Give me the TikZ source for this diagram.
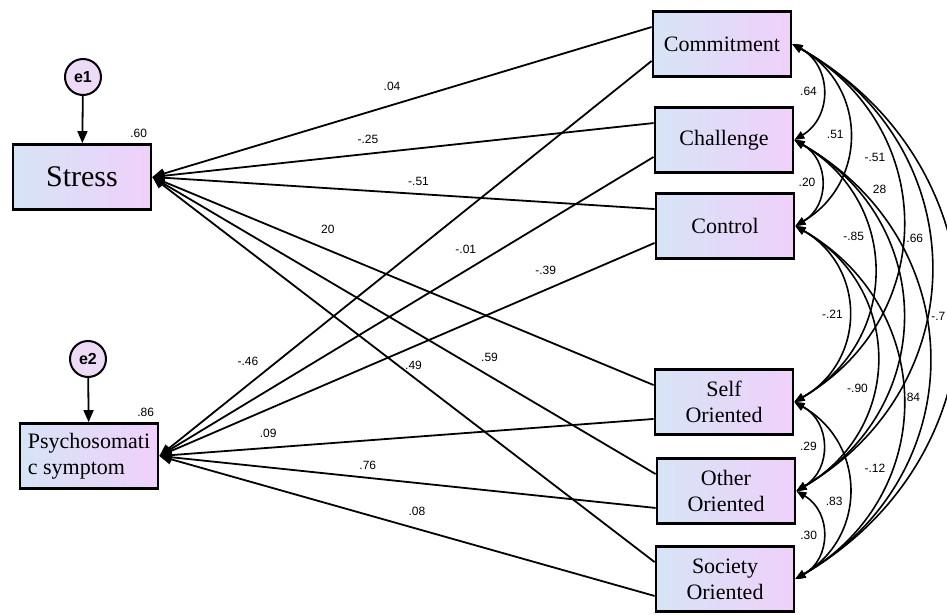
\documentclass[tikz,border=0pt]{standalone}
\usepackage{fontspec}
\setmainfont{Liberation Serif}
\newfontfamily\coeffont{Liberation Sans}
\usetikzlibrary{positioning,calc,arrows.meta,shapes}

\definecolor{boxleft}{RGB}{214,228,246}
\definecolor{boxright}{RGB}{240,208,250}
\definecolor{errfill}{RGB}{236,218,246}

\tikzset{
  obsbox/.style={rectangle,draw=black,line width=1.4pt,left color=boxleft,right color=boxright,minimum width=69pt,minimum height=32.5pt,inner sep=1pt,font=\fontsize{11}{13}\selectfont,align=center},
  errcirc/.style={circle,draw=black,line width=1pt,fill=errfill,minimum size=18pt,inner sep=0pt,font=\coeffont\bfseries\fontsize{8}{8}\selectfont},
  regpath/.style={line width=0.9pt,-{Triangle[length=6pt,width=5pt]}},
  covarc/.style={line width=0.8pt,{Triangle[length=5pt,width=4pt]}-{Triangle[length=5pt,width=4pt]},bend left=60,looseness=1.2},
  coeff/.style={font=\coeffont\fontsize{6}{7}\selectfont,inner sep=0.5pt},
}

\begin{document}
\begin{tikzpicture}[x=0.5pt,y=-0.5pt]
        \useasboundingbox (0,0) rectangle (947,615);

        % endogenous side
        \node[obsbox,font=\fontsize{15}{17}\selectfont] (stress) at (82,177) {Stress};
        \node[obsbox,align=left] (psych) at (89,456) {Psychosomati\\c symptom};
        \node[errcirc] (e1) at (83,77) {e1};
        \node[errcirc] (e2) at (88,359) {e2};
        \draw[regpath] (e1) -- (stress);
        \draw[regpath] (e2) -- (psych);
        \node[coeff,anchor=south east] (r2-stress) at ([xshift=-2pt,yshift=2pt]stress.north east) {.60};
        \node[coeff,anchor=south east] (r2-psych) at ([xshift=-2pt,yshift=2pt]psych.north east) {.86};

        % exogenous side
        \node[obsbox] (com) at (722,44) {Commitment};
        \node[obsbox] (chal) at (724,140) {Challenge};
        \node[obsbox] (ctrl) at (725,226) {Control};
        \node[obsbox] (self) at (724,402) {Self\\Oriented};
        \node[obsbox] (other) at (726,491) {Other\\Oriented};
        \node[obsbox] (soc) at (725,579) {Society\\Oriented};

        % paths to Stress
        \draw[regpath] ($(com.north west)!.25!(com.south west)$) -- (stress.east) node[coeff,pos=.52,above=6.5pt] (b-com-stress) {.04};
        \draw[regpath] ($(chal.north west)!.25!(chal.south west)$) -- (stress.east) node[coeff,pos=.57,above=4.3pt] (b-chal-stress) {-.25};
        \draw[regpath] ($(ctrl.north west)!.25!(ctrl.south west)$) -- (stress.east) node[coeff,pos=.47,above=3pt] (b-ctrl-stress) {-.51};
        \draw[regpath] ($(self.north west)!.25!(self.south west)$) -- (stress.east) node[coeff,pos=.65,above=7pt] (b-self-stress) {20};
        \draw[regpath] ($(other.north west)!.25!(other.south west)$) -- (stress.east) node[coeff,pos=.33,above=6.2pt] (b-other-stress) {.59};
        \draw[regpath] ($(soc.north west)!.25!(soc.south west)$) -- (stress.east) node[coeff,pos=.48,above=3pt] (b-soc-stress) {.49};

        % paths to Psychosomatic symptom
        \draw[regpath] ($(com.north west)!.75!(com.south west)$) -- (psych.east) node[coeff,pos=.82,above=8.5pt] (b-com-psych) {-.46};
        \draw[regpath] ($(chal.north west)!.75!(chal.south west)$) -- (psych.east) node[coeff,pos=.38,above=7.5pt] (b-chal-psych) {-.01};
        \draw[regpath] ($(ctrl.north west)!.75!(ctrl.south west)$) -- (psych.east) node[coeff,pos=.22,above=6.5pt] (b-ctrl-psych) {-.39};
        \draw[regpath] ($(self.north west)!.75!(self.south west)$) -- (psych.east) node[coeff,pos=.78,above=4pt] (b-self-psych) {.09};
        \draw[regpath] ($(other.north west)!.75!(other.south west)$) -- (psych.east) node[coeff,pos=.58,above=3pt] (b-other-psych) {.76};
        \draw[regpath] ($(soc.north west)!.75!(soc.south west)$) -- (psych.east) node[coeff,pos=.48,above=5.5pt] (b-soc-psych) {.08};

        % covariances
        \draw[covarc] (com.east) to node[coeff,pos=.5,left=2pt] (c-com-chal) {.64} (chal.east);
        \draw[covarc] (com.east) to node[coeff,pos=.5,left=2pt] (c-com-ctrl) {.51} (ctrl.east);
        \draw[covarc] (com.east) to node[coeff,pos=.34,left=2pt] (c-com-self) {-.51} (self.east);
        \draw[covarc] (com.east) to node[coeff,pos=.445,left=2pt] (c-com-other) {.66} (other.east);
        \draw[covarc] (com.east) to node[coeff,pos=.51,left=5pt] (c-com-soc) {-.7} (soc.east);
        \draw[covarc] (chal.east) to node[coeff,pos=.5,left=2pt] (c-chal-ctrl) {.20} (ctrl.east);
        \draw[covarc] (chal.east) to node[coeff,pos=.385,left=2pt] (c-chal-self) {-.85} (self.east);
        \draw[covarc] (chal.east) to node[coeff,pos=.17,right=8pt] (c-chal-other) {28} (other.east);
        \draw[covarc] (chal.east) to node[coeff,pos=.575,left=2pt] (c-chal-soc) {.84} (soc.east);
        \draw[covarc] (ctrl.east) to node[coeff,pos=.5,left=2pt] (c-ctrl-self) {-.21} (self.east);
        \draw[covarc] (ctrl.east) to node[coeff,pos=.6,left=2pt] (c-ctrl-other) {-.90} (other.east);
        \draw[covarc] (ctrl.east) to node[coeff,pos=.665,left=2pt] (c-ctrl-soc) {-.12} (soc.east);
        \draw[covarc] (self.east) to node[coeff,pos=.5,left=2pt] (c-self-other) {.29} (other.east);
        \draw[covarc] (self.east) to node[coeff,pos=.555,left=2pt] (c-self-soc) {.83} (soc.east);
        \draw[covarc] (other.east) to node[coeff,pos=.5,left=2pt] (c-other-soc) {.30} (soc.east);
\end{tikzpicture}
\end{document}
